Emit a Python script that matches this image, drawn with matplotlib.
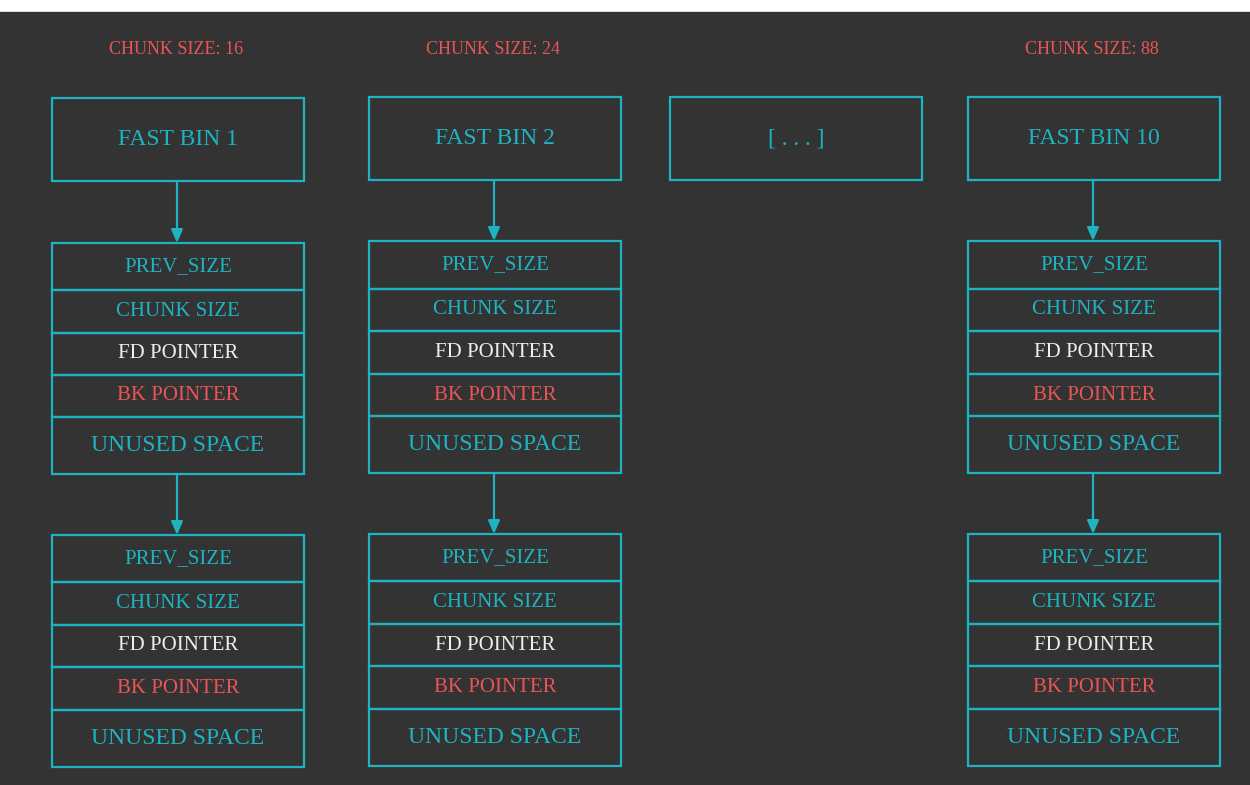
import matplotlib
matplotlib.use("Agg")
import matplotlib.pyplot as plt
from matplotlib.patches import Rectangle

size_labels = ["CHUNK SIZE: 16", "CHUNK SIZE: 24", None, "CHUNK SIZE: 88"]
bin_labels = ["FAST BIN 1", "FAST BIN 2", "[ . . . ]", "FAST BIN 10"]
field_labels = ["PREV_SIZE", "CHUNK SIZE", "FD POINTER", "BK POINTER", "UNUSED SPACE"]
field_colors = ["teal", "teal", "white", "red", "teal"]
has_chunks = [True, True, False, True]

TEAL = "#1db3c2"; RED = "#e85555"; WHITE = "#eeeeee"; BG = "#333333"
cmap = {"teal": TEAL, "red": RED, "white": WHITE}

fig = plt.figure(figsize=(12.5, 7.85), dpi=100)
fig.patch.set_facecolor("white")
ax = fig.add_axes([0, 0, 1, 1])
ax.set_xlim(0, 1250); ax.set_ylim(785, 0); ax.axis("off")
ax.add_patch(Rectangle((0, 12), 1250, 773, color=BG, zorder=0))

cols = [(52, 304), (369, 621), (670, 922), (968, 1220)]
head = [(98, 181), (97, 180), (97, 180), (97, 180)]
chunk_rows = [[243, 290, 333, 375, 417, 474], [241, 289, 331, 374, 416, 473],
              None, [241, 289, 331, 374, 416, 473]]
chunk_rows2 = [[535, 582, 625, 667, 710, 767], [534, 581, 624, 666, 709, 766],
               None, [534, 581, 624, 666, 709, 766]]
font = "Liberation Serif"

def arrow(x, y0, y1):
    ax.annotate("", xy=(x, y1), xytext=(x, y0),
                arrowprops=dict(arrowstyle="-|>,head_length=0.8,head_width=0.35",
                                color=TEAL, lw=1.6, shrinkA=0, shrinkB=0))

for i, (x0, x1) in enumerate(cols):
    cx = (x0 + x1) / 2
    if size_labels[i]:
        ax.text(cx - 2, 50, size_labels[i], color=RED, ha="center", va="center",
                fontsize=13, family=font)
    h0, h1 = head[i]
    ax.add_patch(Rectangle((x0, h0), x1 - x0, h1 - h0, fill=False, ec=TEAL, lw=1.6))
    ax.text(cx, (h0 + h1) / 2, bin_labels[i], color=TEAL, ha="center", va="center",
            fontsize=17, family=font)
    if not has_chunks[i]:
        continue
    prev_bottom = h1
    for rows in (chunk_rows[i], chunk_rows2[i]):
        arrow(cx - 1, prev_bottom, rows[0])
        for k in range(5):
            ax.add_patch(Rectangle((x0, rows[k]), x1 - x0, rows[k + 1] - rows[k],
                                   fill=False, ec=TEAL, lw=1.6))
            ax.text(cx, (rows[k] + rows[k + 1]) / 2, field_labels[k],
                    color=cmap[field_colors[k]], ha="center", va="center",
                    fontsize=17 if k == 4 else 15, family=font)
        prev_bottom = rows[5]

fig.savefig("out.png", dpi=100, facecolor=fig.get_facecolor())
